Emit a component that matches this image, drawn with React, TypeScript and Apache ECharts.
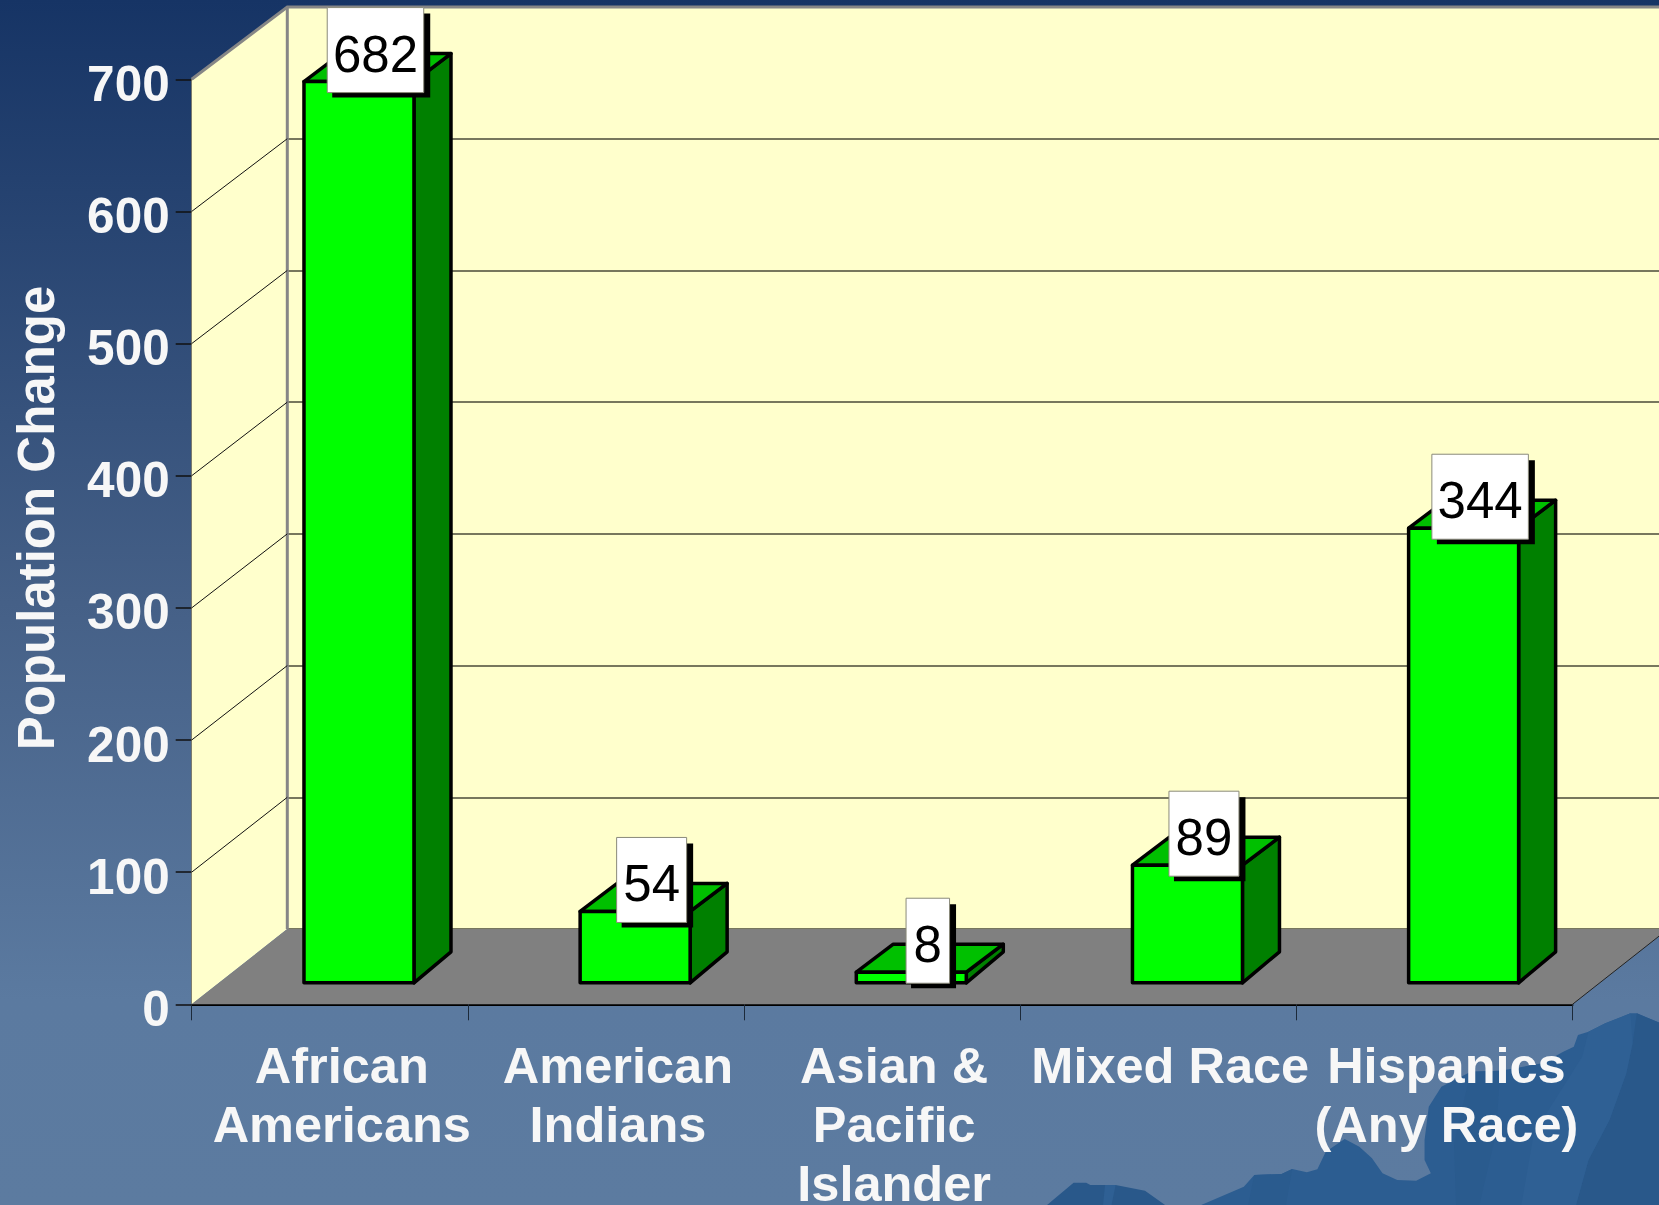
import React, { useEffect, useRef } from "react";
import * as echarts from "echarts";

const categories = ["African\nAmericans", "American\nIndians", "Asian &\nPacific\nIslander", "Mixed Race", "Hispanics\n(Any Race)"];
const populationChange = [682, 54, 8, 89, 344];
const axisTitle = "Population Change";
const yMin = 0;
const yMax = 700;
const yStep = 100;
const yTicks = [100, 200, 300, 400, 500, 600];

const FONT = '"Liberation Sans", Arial, sans-serif';
const WALL = "#FFFFCC";
const WALL_EDGE = "#868686";
const FLOOR = "#808080";
const FRONT = "#00FF00";
const TOP = "#00C000";
const SIDE = "#008000";

// 3D projection constants (pixels)
const WALL_DX = 95.6;
const BAR_SHIFT_X = 29.2;
const BAR_SHIFT_Y = -21.5;
const BAR_W = 110;
const BAR_DX = 37;
const BAR_DY_TOP = -28;
const BAR_DY_BOTTOM = -31;

// Mountain silhouette traced from the backdrop, in zoomed-crop units
const mtn = (pts: number[][]) => pts.map(([x, y]) => [1000 + x / 2.379, 1000 + y / 3]);
const mountainLeft = mtn([[110, 617], [175, 548], [205, 548], [215, 555], [275, 555], [345, 572], [395, 617]]);
const mountainMain = mtn([[475, 617], [580, 560], [605, 525], [670, 522], [695, 507], [730, 517], [755, 508], [775, 455], [820, 417], [855, 440], [885, 475], [910, 520], [945, 540], [990, 542], [1025, 520], [1010, 480], [1010, 420], [1020, 320], [1050, 260], [1120, 215], [1190, 212], [1290, 190], [1340, 155], [1365, 140], [1375, 105], [1400, 95], [1440, 70], [1500, 40], [1515, 40], [1568, 68], [1568, 617]]);
const facets = [
  { fill: "#29588A", pts: mtn([[1515, 40], [1568, 68], [1568, 617], [1370, 617], [1400, 480], [1450, 360], [1490, 220], [1505, 130]]) },
  { fill: "#2F6094", pts: mtn([[1400, 95], [1440, 70], [1500, 40], [1505, 130], [1490, 220], [1450, 360], [1400, 480], [1370, 617], [1240, 617], [1270, 400], [1340, 260], [1385, 170]]) },
  { fill: "#2A5B8E", pts: mtn([[1120, 215], [1190, 212], [1180, 400], [1140, 617], [1085, 617], [1080, 430]]) },
  { fill: "#2A5B8E", pts: mtn([[605, 525], [670, 522], [695, 507], [680, 617], [590, 617]]) },
  { fill: "#2F6094", pts: mtn([[250, 555], [275, 555], [265, 617], [245, 617]]) },
];

export default function App() {
  const ref = useRef<HTMLDivElement>(null);

  useEffect(() => {
    const chart = echarts.init(ref.current!, undefined, { renderer: "svg" });
    const backY = (v: number) => chart.convertToPixel({ yAxisIndex: 1 }, v) as number;

    const renderWalls = (_: any, api: any) => {
      const [cx, y0] = api.coord([0, yMin]);
      const band = api.size([1, 0])[0];
      const x0 = cx - band / 2;
      const [, yTop] = api.coord([0, yMax]);
      const xR = x0 + band * categories.length;
      const bx = x0 + WALL_DX;
      const by0 = backY(yMin);
      const byTop = backY(yMax);
      return {
        type: "group",
        children: [
          { type: "polygon", shape: { points: [[x0, y0], [bx, by0], [bx, byTop], [x0, yTop]] }, style: { fill: WALL } },
          { type: "polygon", shape: { points: [[x0, y0], [bx, by0], [xR + WALL_DX, by0], [xR, y0]] }, style: { fill: FLOOR } },
          { type: "polyline", shape: { points: [[x0, yTop], [bx, byTop], [1670, byTop]] }, style: { fill: "none", stroke: WALL_EDGE, lineWidth: 3 } },
          { type: "line", shape: { x1: bx, y1: byTop, x2: bx, y2: by0 }, style: { stroke: WALL_EDGE, lineWidth: 3 } },
          { type: "line", shape: { x1: xR, y1: y0, x2: xR + WALL_DX, y2: by0 }, style: { stroke: "#222", lineWidth: 1 } },
        ],
      };
    };

    const renderWallLine = (_: any, api: any) => {
      const v = api.value(1);
      const [cx, y] = api.coord([0, v]);
      const x0 = cx - api.size([1, 0])[0] / 2;
      return {
        type: "line",
        shape: { x1: x0, y1: y, x2: x0 + WALL_DX, y2: backY(v) },
        style: { stroke: "#111", lineWidth: 1 },
      };
    };

    const renderBar = (_: any, api: any) => {
      const [cx, yTopRaw] = api.coord([api.value(0), api.value(1)]);
      const [, yBaseRaw] = api.coord([api.value(0), yMin]);
      const l = cx - BAR_W / 2 + BAR_SHIFT_X;
      const r = l + BAR_W;
      const t = yTopRaw + BAR_SHIFT_Y;
      const b = yBaseRaw + BAR_SHIFT_Y;
      const edge = { stroke: "#000", lineWidth: 3.5, lineJoin: "round" };
      return {
        type: "group",
        children: [
          { type: "polygon", shape: { points: [[r, t], [r + BAR_DX, t + BAR_DY_TOP], [r + BAR_DX, b + BAR_DY_BOTTOM], [r, b]] }, style: { fill: SIDE, ...edge } },
          { type: "polygon", shape: { points: [[l, t], [l + BAR_DX, t + BAR_DY_TOP], [r + BAR_DX, t + BAR_DY_TOP], [r, t]] }, style: { fill: TOP, ...edge } },
          { type: "rect", shape: { x: l, y: t, width: BAR_W, height: b - t }, style: { fill: FRONT, ...edge } },
        ],
      };
    };

    const renderLabel = (_: any, api: any) => {
      const val = api.value(1);
      const [cx, yTopRaw] = api.coord([api.value(0), val]);
      const text = String(val);
      const w = text.length * 26.5 + 17;
      const h = 85;
      const mid = cx + BAR_SHIFT_X + 16.5;
      const bottom = yTopRaw + BAR_SHIFT_Y + 11;
      const x = mid - w / 2;
      const y = bottom - h;
      return {
        type: "group",
        children: [
          { type: "rect", shape: { x: x + 5, y: y + 6, width: w + 1.5, height: h - 1 }, style: { fill: "#000" } },
          { type: "rect", shape: { x, y, width: w, height: h }, style: { fill: "#FFF", stroke: "#8A8A7A", lineWidth: 1 } },
          { type: "text", style: { x: mid, y: y + h / 2 + 4, text, fill: "#000", fontSize: 51, fontFamily: FONT, align: "center", verticalAlign: "middle" } },
        ],
      };
    };

    const barData = populationChange.map((v, i) => [i, v]);

    chart.setOption({
      animation: false,
      backgroundColor: new echarts.graphic.LinearGradient(0, 0, 0, 1, [
        { offset: 0, color: "#163465" },
        { offset: 0.5, color: "#456087" },
        { offset: 0.83, color: "#5B7AA0" },
        { offset: 1, color: "#5C7BA0" },
      ]),
      graphic: [
        { type: "polygon", z: -10, shape: { points: mountainLeft }, style: { fill: "#29588A" } },
        { type: "polygon", z: -10, shape: { points: mountainMain }, style: { fill: "#2C5D91" } },
        ...facets.map((f) => ({ type: "polygon", z: -9, shape: { points: f.pts }, style: { fill: f.fill } })),
        {
          type: "text", x: 36, y: 518, rotation: Math.PI / 2, z: 5,
          style: { text: axisTitle, fill: "#F7F7F7", fontSize: 51, fontWeight: "bold", fontFamily: FONT, align: "center", verticalAlign: "middle" },
        },
      ],
      grid: [
        { left: 191.7, top: 79.3, width: 1380.8, height: 925, show: false, outerBoundsMode: "none", containLabel: false },
        { left: 287.4, top: 7, width: 1372, height: 922, show: true, backgroundColor: WALL, borderWidth: 0, outerBoundsMode: "none", containLabel: false },
      ],
      xAxis: [
        {
          type: "category", gridIndex: 0, data: categories, boundaryGap: true,
          axisLine: { lineStyle: { color: "#000", width: 2 } },
          axisTick: { show: true, length: 16, alignWithLabel: false, lineStyle: { color: "#1c2a3a", width: 1 } },
          axisLabel: { interval: 0, margin: 32, color: "#F7F7F7", fontSize: 50.5, fontWeight: "bold", fontFamily: FONT, lineHeight: 59, padding: [0, 0, 0, 24], hideOverlap: false },
        },
        { type: "value", gridIndex: 1, min: 0, max: 1, show: false },
      ],
      yAxis: [
        {
          type: "value", gridIndex: 0, min: yMin, max: yMax, interval: yStep,
          axisLine: { show: true, lineStyle: { color: "#444", width: 1 } },
          axisTick: { show: true, length: 16, lineStyle: { color: "#111", width: 1.5 } },
          splitLine: { show: false },
          axisLabel: { margin: 22, color: "#F7F7F7", fontSize: 49.5, fontWeight: "bold", fontFamily: FONT, verticalAlign: "top", lineHeight: 8 },
        },
        {
          type: "value", gridIndex: 1, min: yMin, max: yMax, interval: yStep,
          axisLine: { show: false }, axisTick: { show: false }, axisLabel: { show: false },
          splitLine: { show: true, lineStyle: { color: "#4A4A38", width: 1.5 } },
        },
      ],
      series: [
        { name: "walls", type: "custom", coordinateSystem: "cartesian2d", xAxisIndex: 0, yAxisIndex: 0, z: 1, data: [[0, yMin]], renderItem: renderWalls, silent: true },
        { name: "wall grid", type: "custom", coordinateSystem: "cartesian2d", xAxisIndex: 0, yAxisIndex: 0, z: 2, data: yTicks.map((v) => [0, v]), renderItem: renderWallLine, silent: true },
        { name: "Population Change", type: "custom", coordinateSystem: "cartesian2d", xAxisIndex: 0, yAxisIndex: 0, z: 3, encode: { x: 0, y: 1 }, data: barData, renderItem: renderBar },
        { name: "Values", type: "custom", coordinateSystem: "cartesian2d", xAxisIndex: 0, yAxisIndex: 0, z: 4, encode: { x: 0, y: 1 }, data: barData, renderItem: renderLabel },
      ],
    });
    return () => chart.dispose();
  }, []);

  return <div ref={ref} style={{ position: "absolute", left: 0, top: 0, width: 1659, height: 1205, overflow: "hidden" }} />;
}
